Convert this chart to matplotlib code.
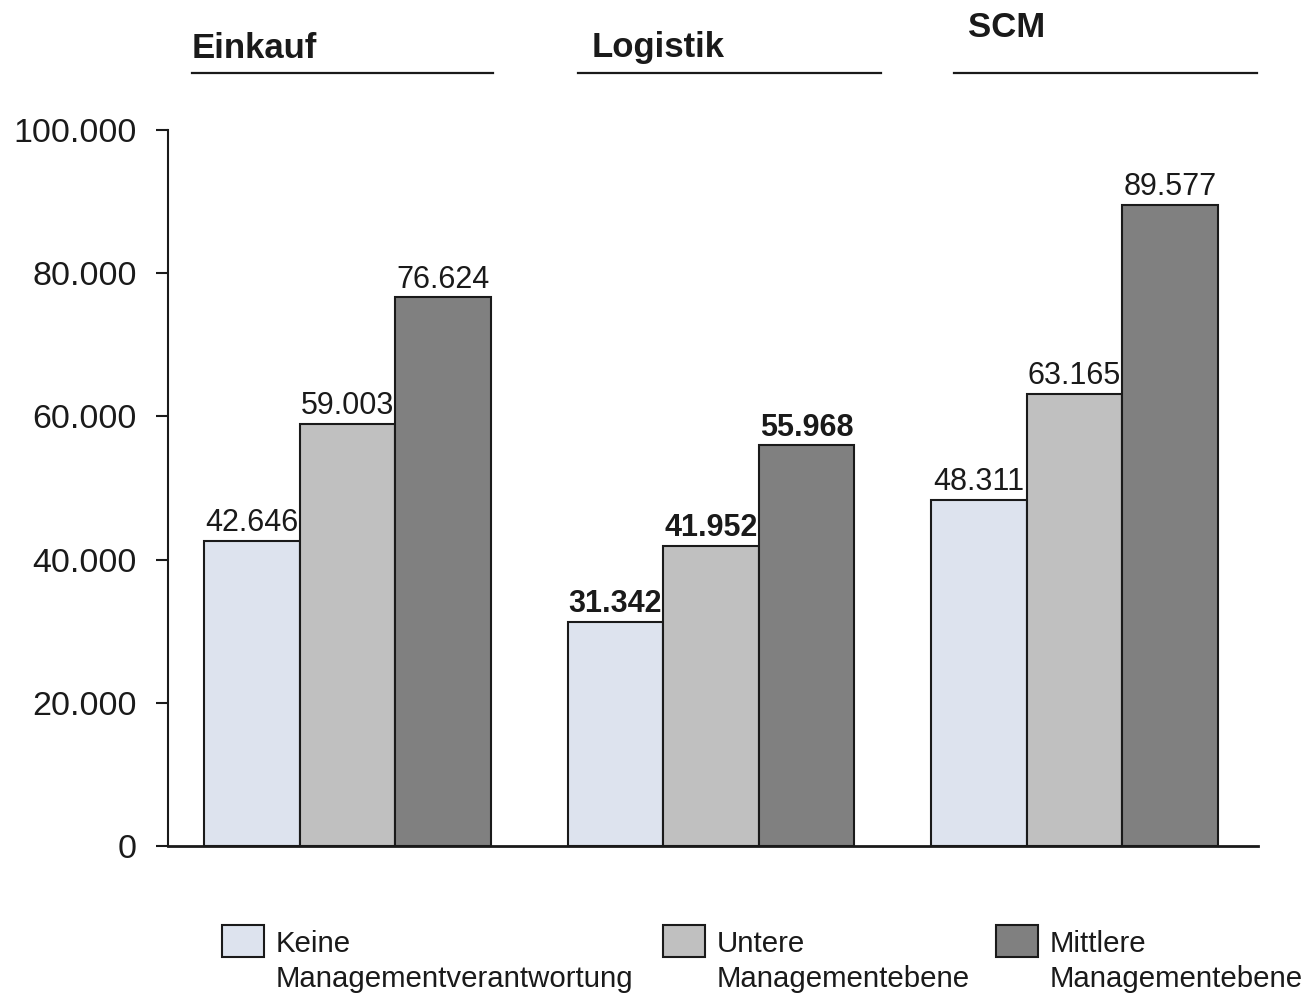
import matplotlib
matplotlib.use("Agg")
import matplotlib.pyplot as plt
from matplotlib.lines import Line2D
from matplotlib.patches import Rectangle
import numpy as np

plt.rcParams['font.family'] = ['Liberation Sans', 'DejaVu Sans']

groups = ["Einkauf", "Logistik", "SCM"]
series = ["Keine\nManagementverantwortung", "Untere\nManagementebene", "Mittlere\nManagementebene"]
keine = [42646, 31342, 48311]
untere = [59003, 41952, 63165]
mittlere = [76624, 55968, 89577]
bold_group = [False, True, False]
colors = ["#dde3ee", "#c0c0c0", "#808080"]
yticks = [0, 20000, 40000, 60000, 80000, 100000]

W, H = 1308, 994
fig = plt.figure(figsize=(W / 100, H / 100), dpi=100)
ax = fig.add_axes([168 / W, 1 - 846 / H, (1258 - 168) / W, (846 - 130) / H])

x = np.arange(len(groups))
bw = 0.263
edge = "#1a1a1a"
for i, (vals, col) in enumerate(zip([keine, untere, mittlere], colors)):
    xs = x + (i - 1) * bw
    ax.bar(xs, vals, width=bw, color=col, edgecolor=edge, linewidth=1.5)
    for xi, v, b in zip(xs, vals, bold_group):
        ax.annotate(f"{v:,}".replace(",", "."), (xi, v), xytext=(0, 7),
                    textcoords="offset points", ha="center", va="baseline",
                    fontsize=22, fontweight="bold" if b else "normal", color="#1a1a1a")

ax.set_xlim(-0.494, 2.505)
ax.set_ylim(0, 100000)
ax.set_yticks(yticks)
ax.set_yticklabels([f"{t:,}".replace(",", ".") for t in yticks])
ax.tick_params(axis="y", labelsize=24.5, length=8.5, width=1.5, pad=14, colors="#1a1a1a")
ax.set_xticks([])
for s in ["top", "right"]:
    ax.spines[s].set_visible(False)
ax.spines["left"].set_linewidth(1.5)
ax.spines["bottom"].set_linewidth(2)
ax.spines["left"].set_color(edge)
ax.spines["bottom"].set_color(edge)

# group headers
hdr = [(192, 58, 192, 493), (592, 57, 578, 881), (968, 37, 954, 1257)]
for name, (tx, ty, lx0, lx1) in zip(groups, hdr):
    fig.text(tx / W, 1 - ty / H, name, fontsize=25, fontweight="bold",
             ha="left", va="baseline", color="#1a1a1a")
    fig.add_artist(Line2D([lx0 / W, lx1 / W], [1 - 72.5 / H] * 2,
                          transform=fig.transFigure, color="#1a1a1a", lw=1.6))

# legend (drawn manually to match the layout)
leg_x = [222, 663, 996]
for lx, lab, col in zip(leg_x, series, colors):
    fig.add_artist(Rectangle((lx / W, 1 - 957 / H), 42 / W, 32 / H,
                             transform=fig.transFigure, facecolor=col,
                             edgecolor=edge, linewidth=1.5))
    fig.text((lx + 54) / W, 1 - 930 / H, lab, fontsize=21.2, ha="left",
             va="top", linespacing=1.31, color="#1a1a1a")

fig.savefig("out.png", dpi=100)
